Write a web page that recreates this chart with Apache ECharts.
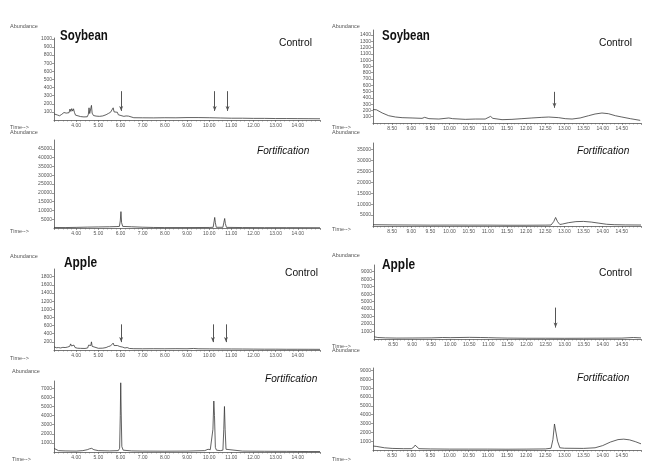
<!DOCTYPE html>
<html>
<head>
<meta charset="utf-8">
<script src="https://cdn.jsdelivr.net/npm/echarts@6/dist/echarts.min.js"></script>
<style>
  html, body { margin: 0; padding: 0; background: #fff; }
  #chart { width: 661px; height: 463px; }
</style>
</head>
<body>
<div id="chart"></div>
<script>
// retention time / abundance pairs
const soyCtrlLeft = [
  [3.0, 75], [3.08, 55], [3.15, 62], [3.25, 52], [3.35, 70], [3.45, 92], [3.55, 85], [3.62, 100],
  [3.68, 90], [3.72, 135], [3.76, 105], [3.8, 140], [3.84, 110], [3.88, 138], [3.92, 95], [3.97, 60],
  [4.05, 45], [4.2, 42], [4.35, 38], [4.5, 40], [4.55, 70], [4.58, 150], [4.61, 80], [4.65, 90],
  [4.69, 180], [4.72, 85], [4.78, 55], [4.9, 48], [5.05, 45], [5.2, 50], [5.35, 65], [5.45, 80],
  [5.55, 95], [5.62, 110], [5.67, 150], [5.71, 100], [5.76, 120], [5.8, 85], [5.86, 95], [5.9, 65],
  [5.96, 70], [6.02, 55], [6.08, 60], [6.15, 45], [6.25, 50], [6.32, 62], [6.36, 48], [6.45, 32],
  [6.6, 28], [7.0, 27], [7.5, 26], [8.0, 28], [8.5, 27], [9.0, 30], [9.5, 30], [10.0, 28],
  [10.5, 25], [11.0, 22], [11.5, 22], [12.0, 20], [12.5, 20], [13.0, 18], [13.5, 18], [14.0, 17],
  [14.5, 16], [15.0, 15]
]
const soyFortLeft = [
  [3.0, 300], [3.5, 250], [4.0, 350], [4.5, 500], [5.0, 600], [5.5, 700], [5.8, 800], [5.95, 900],
  [5.99, 4000], [6.02, 9300], [6.05, 3000], [6.1, 900], [6.5, 700], [7.0, 450], [7.5, 300], [8.0, 250],
  [9.0, 250], [10.0, 300], [10.18, 400], [10.22, 3500], [10.25, 6000], [10.28, 3000], [10.32, 400],
  [10.62, 400], [10.66, 3000], [10.7, 5400], [10.73, 2500], [10.78, 350], [11.5, 250], [12.5, 200],
  [13.5, 200], [15.0, 150]
]
const soyCtrlRight = [
  [8.0, 215], [8.09, 210], [8.24, 160], [8.41, 116], [8.59, 95], [8.76, 85], [9.02, 80], [9.28, 74],
  [9.35, 90], [9.46, 69], [9.72, 63], [9.98, 80], [10.03, 95], [10.08, 69], [10.41, 58], [10.67, 63],
  [10.93, 63], [11.07, 105], [11.13, 74], [11.37, 53], [11.63, 58], [11.89, 69], [12.15, 80],
  [12.41, 90], [12.59, 95], [12.85, 85], [13.02, 69], [13.2, 63], [13.41, 80], [13.63, 116],
  [13.8, 143], [13.98, 159], [14.15, 148], [14.33, 116], [14.5, 95], [14.72, 69], [14.98, 42]
]
const soyFortRight = [
  [8.0, 600], [8.5, 500], [9.0, 450], [9.5, 400], [10.0, 420], [10.5, 400], [11.0, 400], [11.5, 350],
  [12.0, 350], [12.5, 400], [12.65, 450], [12.72, 2000], [12.77, 3900], [12.82, 2000], [12.88, 700],
  [12.95, 900], [13.1, 1500], [13.3, 2000], [13.5, 2100], [13.7, 1800], [13.9, 1300], [14.1, 800],
  [14.3, 600], [14.6, 500], [15.0, 450]
]
const appleCtrlLeft = [
  [3.0, 80], [3.1, 55], [3.2, 60], [3.3, 50], [3.4, 65], [3.5, 60], [3.6, 70], [3.67, 110], [3.71, 90],
  [3.75, 150], [3.79, 100], [3.83, 145], [3.87, 95], [3.9, 120], [3.95, 60], [4.05, 45], [4.2, 40],
  [4.4, 38], [4.52, 50], [4.56, 120], [4.59, 160], [4.62, 80], [4.66, 110], [4.69, 200], [4.72, 90],
  [4.8, 50], [5.0, 42], [5.2, 45], [5.35, 60], [5.45, 85], [5.55, 100], [5.62, 120], [5.67, 170],
  [5.71, 110], [5.76, 135], [5.8, 90], [5.86, 110], [5.9, 70], [5.97, 85], [6.03, 60], [6.1, 70],
  [6.2, 50], [6.3, 60], [6.4, 38], [6.6, 32], [7.0, 30], [7.5, 32], [8.0, 30], [8.5, 33], [9.0, 30],
  [9.3, 38], [9.5, 30], [10.0, 28], [10.5, 26], [11.0, 25], [11.5, 24], [12.0, 22], [12.5, 20],
  [13.0, 20], [13.5, 18], [14.0, 18], [14.5, 17], [15.0, 16]
]
const appleFortLeft = [
  [3.0, 400], [3.05, 200], [3.2, 150], [3.5, 120], [4.0, 100], [4.3, 150], [4.5, 250], [4.6, 350],
  [4.7, 400], [4.8, 250], [5.0, 150], [5.5, 120], [5.9, 150], [5.96, 400], [5.99, 4000], [6.01, 7600],
  [6.03, 4500], [6.06, 600], [6.12, 200], [6.5, 120], [7.0, 100], [8.0, 90], [9.0, 100], [9.8, 150],
  [9.95, 300], [10.05, 250], [10.12, 300], [10.17, 2500], [10.21, 5600], [10.24, 4000], [10.28, 500],
  [10.33, 200], [10.5, 150], [10.62, 200], [10.66, 2500], [10.69, 5000], [10.72, 2500], [10.76, 300],
  [10.85, 150], [11.5, 100], [12.5, 80], [13.5, 70], [14.0, 60], [14.5, 50], [15.0, 50]
]
const appleCtrlRight = [
  [8.0, 300], [8.1, 200], [8.3, 150], [8.6, 120], [9.0, 130], [9.5, 150], [9.8, 200], [10.0, 180],
  [10.5, 220], [10.8, 200], [11.0, 180], [11.2, 150], [11.5, 120], [12.0, 100], [12.5, 100],
  [13.0, 90], [13.5, 100], [14.0, 110], [14.5, 120], [14.8, 200], [15.0, 150]
]
const appleFortRight = [
  [8.0, 450], [8.1, 400], [8.3, 250], [8.5, 180], [8.8, 150], [9.0, 150], [9.06, 300], [9.1, 550],
  [9.14, 350], [9.2, 150], [9.5, 120], [10.0, 100], [10.5, 100], [11.0, 100], [11.5, 90], [12.0, 100],
  [12.5, 120], [12.65, 200], [12.7, 1200], [12.74, 2950], [12.78, 2900], [12.82, 1000], [12.88, 250],
  [13.0, 200], [13.5, 180], [13.8, 250], [14.0, 500], [14.2, 900], [14.4, 1180], [14.55, 1230],
  [14.7, 1150], [14.85, 950], [15.0, 700]
]

// arrows marking analyte retention times: [time, from, to]
const soyLeftArrows = [[6.03, 355, 112], [10.25, 355, 112], [10.83, 355, 112]]
const soyRightArrows = [[12.74, 496, 242]]
const appleLeftArrows = [[6.03, 630, 194], [10.17, 630, 194], [10.76, 630, 194]]
const appleRightArrows = [[12.76, 4200, 1530]]

// axis extents and tick steps per panel
const xMins = [3, 3, 8, 8, 3, 3, 8, 8]
const xMaxs = [15, 15, 15, 15, 15, 15, 15, 15]
const xSteps = [1, 1, 0.5, 0.5, 1, 1, 0.5, 0.5]
const yMaxs = [1010, 50000, 1480, 38000, 1990, 7800, 9900, 9300]
const ySteps = [100, 5000, 100, 5000, 200, 1000, 1000, 1000]

const traces = [soyCtrlLeft, soyFortLeft, soyCtrlRight, soyFortRight,
  appleCtrlLeft, appleFortLeft, appleCtrlRight, appleFortRight]
const arrows = [soyLeftArrows, [], soyRightArrows, [], appleLeftArrows, [], appleRightArrows, []]

const grids = [
  { left: 54, top: 38, width: 266, height: 82 },
  { left: 54, top: 140, width: 266, height: 88 },
  { left: 373, top: 30, width: 268, height: 93 },
  { left: 373, top: 143, width: 268, height: 83 },
  { left: 54, top: 269, width: 266, height: 81 },
  { left: 54, top: 381, width: 266, height: 71 },
  { left: 374, top: 265, width: 267, height: 74 },
  { left: 373, top: 368, width: 268, height: 82 }
]

const ink = '#3a3a3a'
const small = { fontSize: 5, color: '#555', fontFamily: 'Liberation Sans, Arial, sans-serif' }

const xAxes = grids.map((g, i) => ({
  type: 'value',
  gridIndex: i,
  min: xMins[i],
  max: xMaxs[i],
  interval: xSteps[i],
  axisLine: { onZero: false, lineStyle: { color: '#555', width: 0.8 } },
  axisTick: { length: 2, lineStyle: { color: '#555', width: 0.6 } },
  minorTick: { show: true, splitNumber: 5, length: 1.5, lineStyle: { color: '#666', width: 0.5 } },
  axisLabel: {
    ...small, margin: 3, showMinLabel: false, showMaxLabel: false,
    formatter: v => v.toFixed(2)
  },
  splitLine: { show: false }
}))

const yAxes = grids.map((g, i) => ({
  type: 'value',
  gridIndex: i,
  min: 0,
  max: yMaxs[i],
  interval: ySteps[i],
  axisLine: { show: true, lineStyle: { color: '#555', width: 0.8 } },
  axisTick: { show: true, length: 2, lineStyle: { color: '#555', width: 0.6 } },
  axisLabel: {
    ...small, margin: 2, showMinLabel: false, showMaxLabel: false,
    formatter: v => String(Math.round(v))
  },
  splitLine: { show: false }
}))

const series = traces.map((d, i) => ({
  type: 'line',
  xAxisIndex: i,
  yAxisIndex: i,
  data: d,
  showSymbol: false,
  lineStyle: { color: ink, width: 0.8 },
  silent: true,
  markLine: {
    silent: true,
    symbol: ['none', 'arrow'],
    symbolSize: [3, 5],
    label: { show: false },
    lineStyle: { color: '#555', width: 1, type: 'solid' },
    data: arrows[i].map(a => [{ coord: [a[0], a[1]] }, { coord: [a[0], a[2]] }])
  }
}))

// little instrument labels and panel titles
const tinyText = (x, y, text) => ({
  type: 'text', x, y, silent: true,
  style: { text, fontSize: 5.5, fill: '#555', fontFamily: 'Liberation Sans, Arial, sans-serif', textVerticalAlign: 'middle' }
})
const bigText = (x, y, text, font, sx) => ({
  type: 'text', x, y, scaleX: sx, silent: true,
  style: { text, fill: '#111', font, textVerticalAlign: 'top' }
})

const titleFont = 'bold 14px "Liberation Sans", Arial, sans-serif'
const ctrlFont = '11px "Liberation Sans", Arial, sans-serif'
const fortFont = 'italic 11px "Liberation Sans", Arial, sans-serif'

const graphic = [
  tinyText(10, 26, 'Abundance'), tinyText(10, 127, 'Time-->'),
  tinyText(10, 132, 'Abundance'), tinyText(10, 231, 'Time-->'),
  tinyText(332, 26, 'Abundance'), tinyText(332, 127, 'Time-->'),
  tinyText(332, 132, 'Abundance'), tinyText(332, 229, 'Time-->'),
  tinyText(10, 256, 'Abundance'), tinyText(10, 358, 'Time-->'),
  tinyText(12, 371, 'Abundance'), tinyText(12, 459, 'Time-->'),
  tinyText(332, 255, 'Abundance'), tinyText(332, 346, 'Time-->'),
  tinyText(332, 350, 'Abundance'), tinyText(332, 459, 'Time-->'),
  bigText(60, 29, 'Soybean', titleFont, 0.82),
  bigText(382, 29, 'Soybean', titleFont, 0.82),
  bigText(64, 256, 'Apple', titleFont, 0.85),
  bigText(382, 258, 'Apple', titleFont, 0.85),
  bigText(279, 37, 'Control', ctrlFont, 0.93),
  bigText(599, 37, 'Control', ctrlFont, 0.93),
  bigText(285, 267, 'Control', ctrlFont, 0.93),
  bigText(599, 267, 'Control', ctrlFont, 0.93),
  bigText(257, 145, 'Fortification', fortFont, 0.92),
  bigText(577, 145, 'Fortification', fortFont, 0.92),
  bigText(265, 373, 'Fortification', fortFont, 0.92),
  bigText(577, 372, 'Fortification', fortFont, 0.92)
]

const chart = echarts.init(document.getElementById('chart'), null, { renderer: 'canvas' })
chart.setOption({
  animation: false,
  backgroundColor: '#fff',
  grid: grids,
  xAxis: xAxes,
  yAxis: yAxes,
  series,
  graphic
})
</script>
</body>
</html>
